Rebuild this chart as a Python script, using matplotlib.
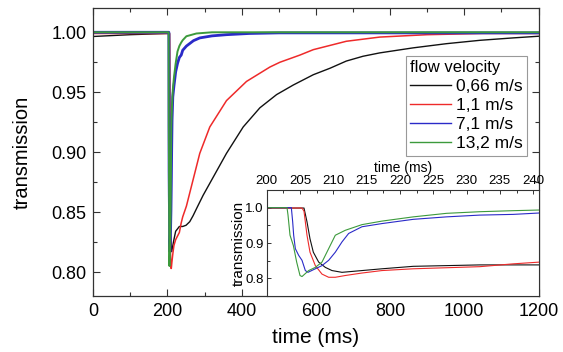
import numpy as np
import matplotlib
matplotlib.use("Agg")
import matplotlib.pyplot as plt
from matplotlib.ticker import MultipleLocator

plt.rcParams['font.family'] = ['Liberation Sans', 'DejaVu Sans']

# flow velocity series: time (ms) and transmission
black_t = [0, 100, 200, 205.6, 206.05, 206.5, 207.0, 207.8, 208.8, 209.8, 211.3,
           214.3, 217.3, 222, 227, 232, 241, 250, 260, 269, 280, 296, 323, 359,
           404, 449, 494, 539, 593, 638, 682, 727, 772, 862, 952, 1042, 1131, 1200]
black_v = [0.9965, 0.998, 0.999, 0.999, 0.96, 0.912, 0.874, 0.846, 0.831, 0.822, 0.817,
           0.822, 0.827, 0.834, 0.836, 0.838, 0.838, 0.839, 0.842, 0.847, 0.854, 0.864,
           0.879, 0.899, 0.921, 0.937, 0.948, 0.956, 0.9646, 0.970, 0.976, 0.980,
           0.9828, 0.987, 0.9905, 0.9933, 0.9953, 0.9967]

red_t = [0, 200, 205.3, 205.6, 206.05, 206.5, 207.3, 208.3, 209.3, 210.3, 211.8,
         214.3, 217.3, 222, 227, 232, 237, 241, 251, 260, 269, 287, 314, 359, 413,
         476, 503, 557, 593, 682, 772, 900, 1050, 1200]
red_v = [0.999, 0.999, 0.999, 0.99, 0.922, 0.874, 0.836, 0.812, 0.803, 0.803, 0.808,
         0.815, 0.822, 0.827, 0.830, 0.833, 0.841, 0.846, 0.855, 0.866, 0.877, 0.899,
         0.921, 0.943, 0.959, 0.971, 0.975, 0.981, 0.9855, 0.9925, 0.996, 0.998,
         0.999, 0.999]

blue_t = [0, 200, 203.7, 203.9, 204.05, 204.3, 204.8, 205.3, 205.8, 206.2, 207.3,
          208.3, 209.3, 210.3, 211.3, 212.3, 214.3, 217.3, 222, 227, 232, 237, 241,
          251, 270, 287, 320, 359, 420, 500, 1200]
blue_v = [1.0, 1.0, 1.0, 0.96, 0.922, 0.884, 0.865, 0.851, 0.822, 0.817, 0.827,
          0.836, 0.851, 0.874, 0.903, 0.927, 0.946, 0.955, 0.967, 0.974, 0.979, 0.981,
          0.985, 0.9885, 0.993, 0.9953, 0.997, 0.998, 0.999, 0.9995, 0.9995]

green_t = [0, 200, 203.05, 203.2, 203.5, 204.0, 204.5, 205.0, 205.3, 206.3, 207.3,
           208.3, 209.3, 210.3, 211.8, 214.3, 217.3, 222, 227, 232, 237, 241, 251,
           278, 320, 1200]
green_v = [1.0, 1.0, 1.0, 0.979, 0.922, 0.893, 0.846, 0.808, 0.805, 0.822, 0.831,
           0.846, 0.884, 0.922, 0.936, 0.952, 0.962, 0.974, 0.984, 0.9886, 0.9915,
           0.9934, 0.9967, 0.999, 1.0, 1.0]

labels = ['0,66 m/s', '1,1 m/s', '7,1 m/s', '13,2 m/s']
colors = ['#111111', '#ee2a2a', '#2a2ac8', '#3c9a3c']
series = [(black_t, black_v), (red_t, red_v), (blue_t, blue_v), (green_t, green_v)]
main_lw = [1.0, 1.1, 2.0, 1.4]

fig = plt.figure(figsize=(5.63, 3.52), dpi=100)
ax = fig.add_axes([0.1657, 0.1591, 0.7908, 0.8173])

for (t, v), c, lab, lw in zip(series, colors, labels, main_lw):
    ax.plot(t, v, color=c, lw=lw, label=lab)

ax.set_xlim(0, 1200)
ax.set_ylim(0.78, 1.02)
ax.xaxis.set_major_locator(MultipleLocator(200))
ax.xaxis.set_minor_locator(MultipleLocator(100))
ax.yaxis.set_major_locator(MultipleLocator(0.05))
ax.yaxis.set_minor_locator(MultipleLocator(0.025))
ax.tick_params(which='both', direction='in', top=True, right=True,
               labelsize=13, color='#333333', width=0.8)
ax.tick_params(which='major', length=5, pad=5)
ax.tick_params(which='minor', length=3)
for s in ax.spines.values():
    s.set_color('#333333')
    s.set_linewidth(0.9)
ax.set_xlabel('time (ms)', fontsize=15, labelpad=6)
ax.set_ylabel('transmission', fontsize=14.5, labelpad=14)

leg = ax.legend(title='flow velocity', loc='upper right',
                bbox_to_anchor=(0.9735, 0.834), borderaxespad=0,
                fontsize=12.5, title_fontsize=12, alignment='left',
                handlelength=2.35, handletextpad=0.25, borderpad=0.25,
                labelspacing=0.22, fancybox=False, framealpha=1)
leg.get_frame().set_edgecolor('#999999')
leg.get_frame().set_linewidth(0.8)
for h in leg.legend_handles:
    h.set_linewidth(1.0)

# inset: zoom on the dip
ins = fig.add_axes([0.4737, 0.1591, 0.4828, 0.3011])
for (t, v), c in zip(series, colors):
    ins.plot(t, v, color=c, lw=0.8)
ins.set_xlim(200, 240.8)
ins.set_ylim(0.75, 1.05)
ins.xaxis.tick_top()
ins.xaxis.set_label_position('top')
ins.xaxis.set_major_locator(MultipleLocator(5))
ins.xaxis.set_minor_locator(MultipleLocator(2.5))
ins.yaxis.set_major_locator(MultipleLocator(0.1))
ins.yaxis.set_minor_locator(MultipleLocator(0.05))
ins.tick_params(which='both', direction='in', labelsize=9.5, color='#333333', width=0.7)
ins.tick_params(which='major', length=3, pad=2)
ins.tick_params(which='minor', length=2)
for s in ins.spines.values():
    s.set_color('#333333')
    s.set_linewidth(0.8)
ins.set_xlabel('time (ms)', fontsize=10, labelpad=2)
ins.set_ylabel('transmission', fontsize=11, labelpad=0)

fig.savefig('out.png', dpi=100)
